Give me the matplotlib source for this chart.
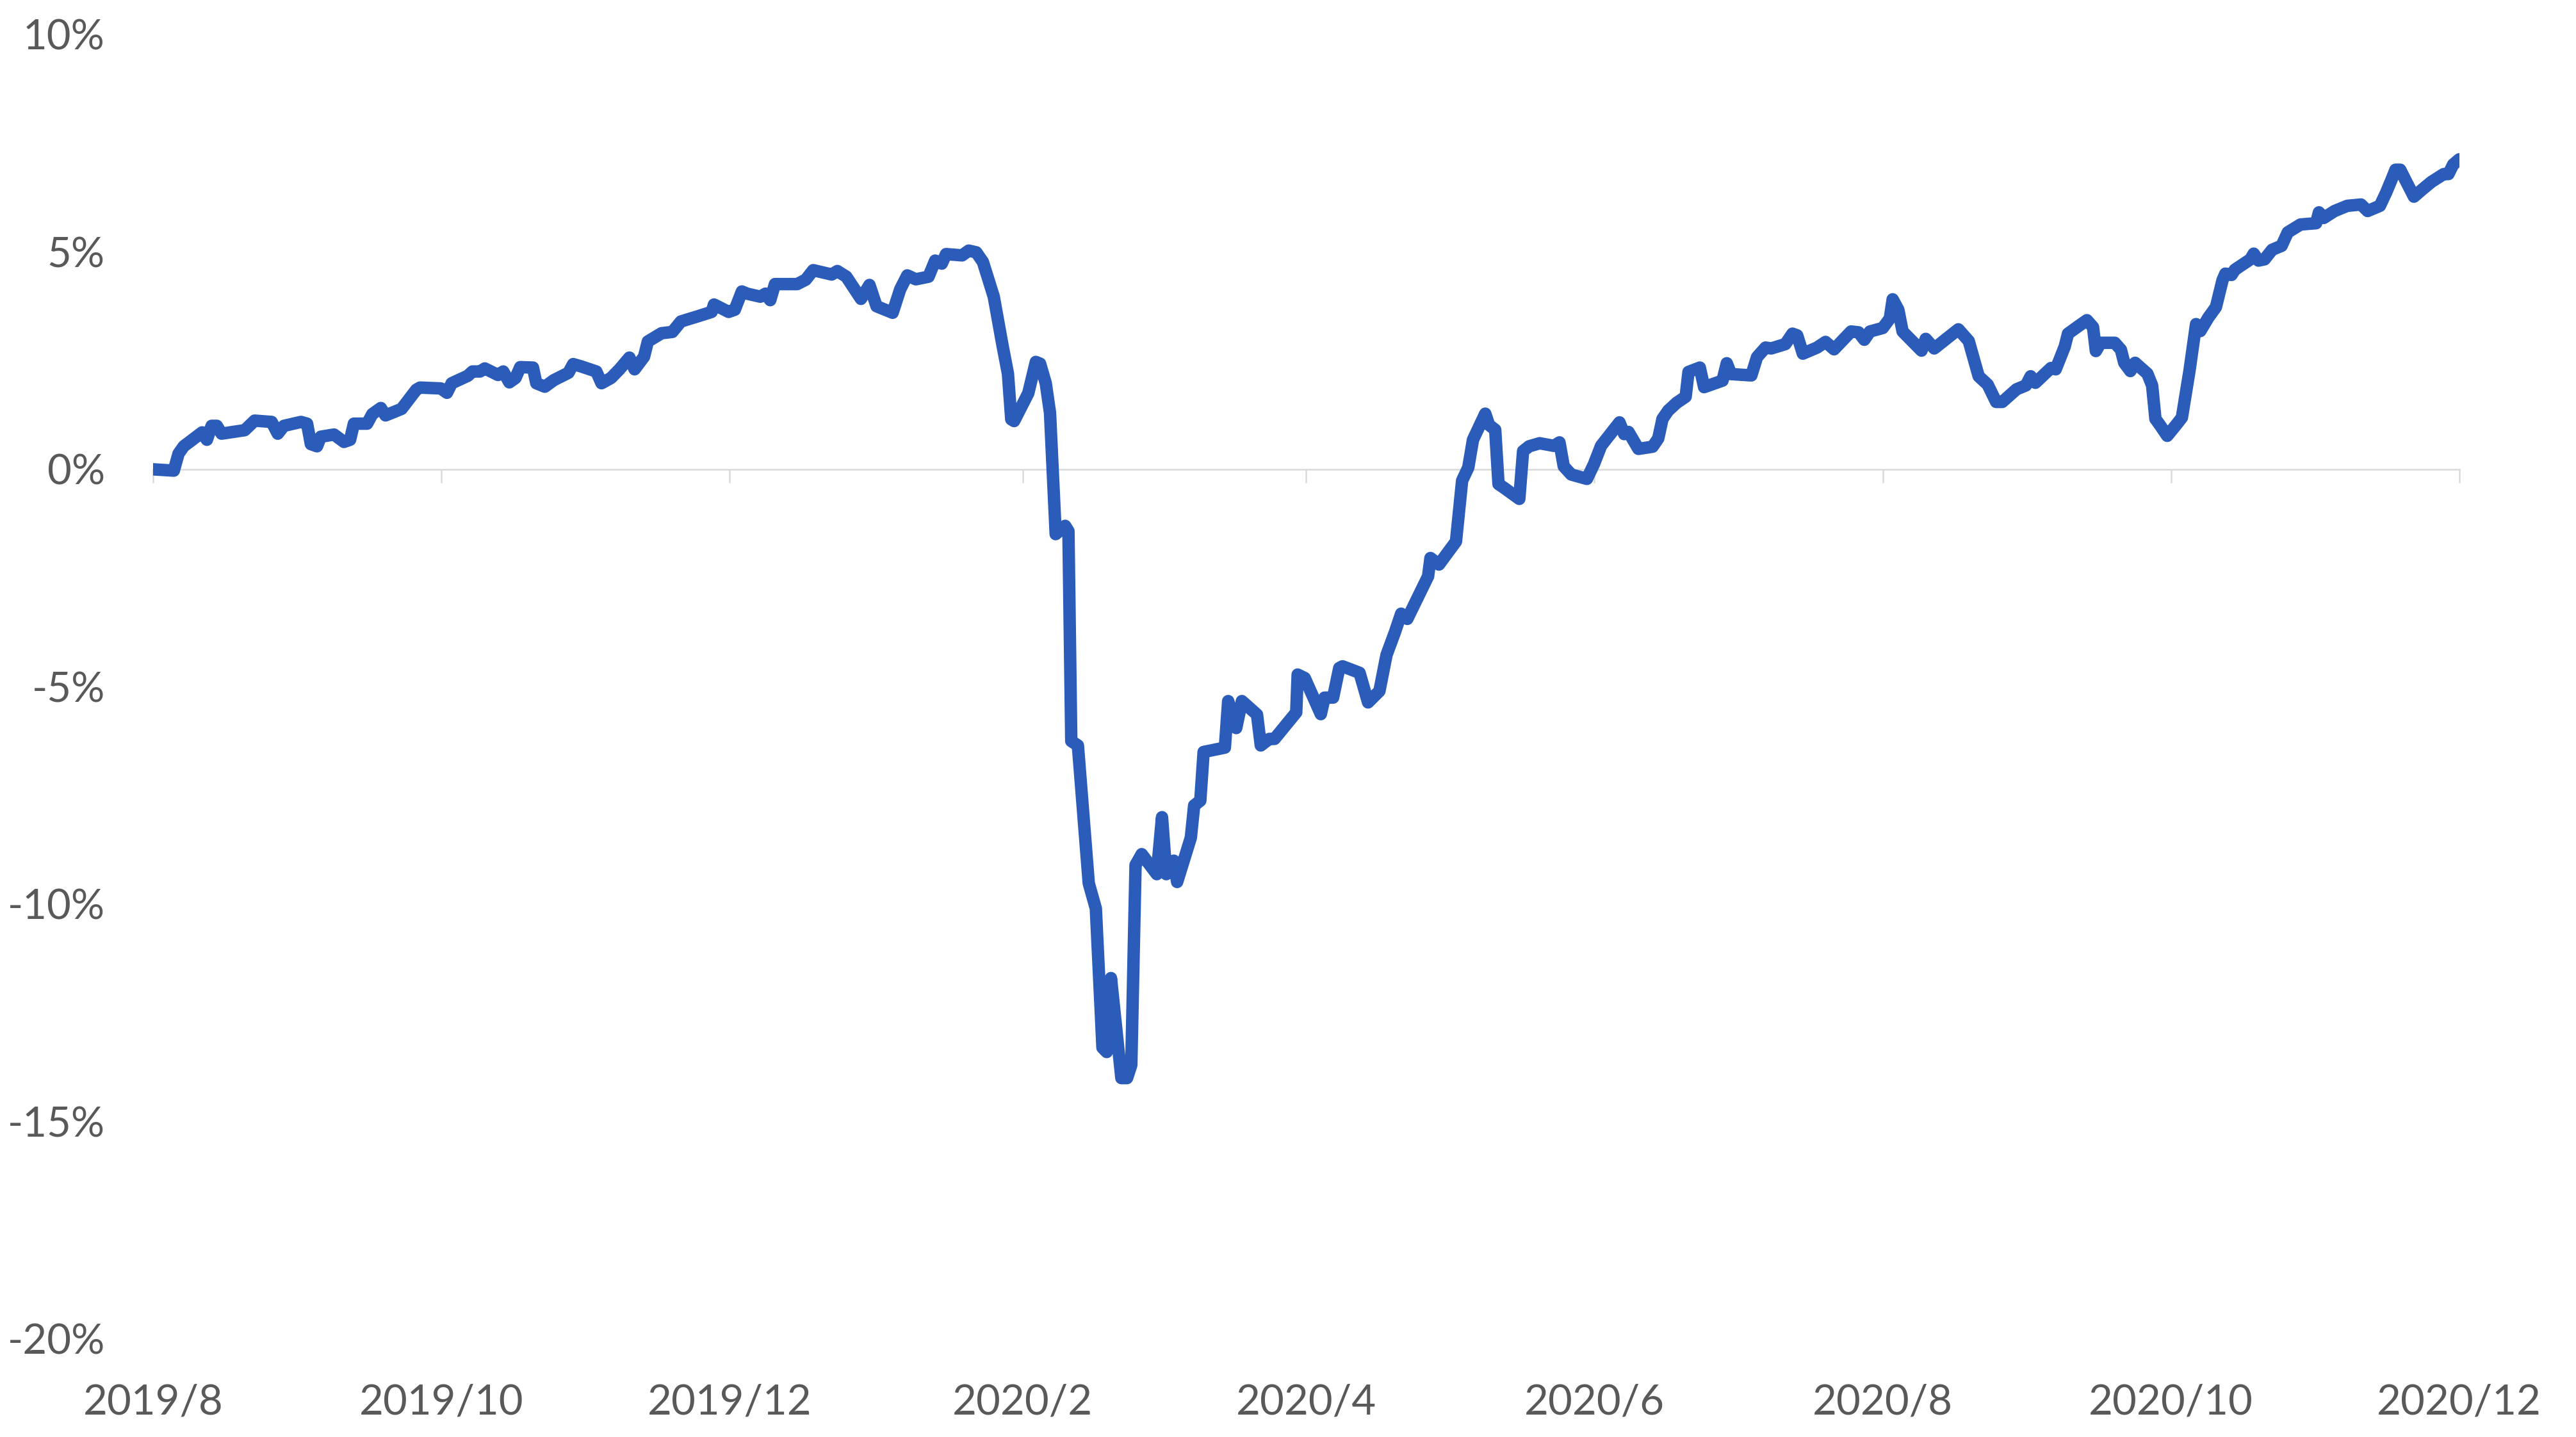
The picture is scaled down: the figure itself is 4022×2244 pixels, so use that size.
import pandas as pd
import matplotlib
matplotlib.use("Agg")
import matplotlib.pyplot as plt
import matplotlib.dates as mdates
from matplotlib.ticker import FuncFormatter

START = "2019-08-01"
END = "2020-12-01"

# days after 2019/8/1 and cumulative return (%)
day_offsets = [
    0.0, 4.4, 5.4, 6.5, 10.4, 11.4, 12.4, 13.5, 14.5, 19.4, 21.5, 25.1, 26.4, 27.7,
    31.3, 32.6, 33.4, 34.7, 35.5, 38.3, 40.4, 41.7, 42.5, 45.3, 46.4, 48.2, 49.2,
    52.6, 55.7, 56.5, 60.9, 62.2, 63.2, 66.6, 67.6, 69.2, 70.2, 73.0, 74.1, 75.4,
    76.7, 77.7, 80.4, 81.1, 82.9, 84.8, 87.9, 88.9, 90.5, 93.8, 94.9, 96.9, 98.7,
    100.8, 101.9, 103.9, 104.7, 107.6, 109.9, 111.7, 115.3, 118.2, 118.7, 121.8,
    123.1, 124.6, 125.7, 128.5, 129.6, 130.6, 131.6, 136.3, 138.1, 139.7, 143.6,
    144.8, 146.7, 149.8, 151.6, 153.1, 156.5, 158.1, 159.6, 161.4, 164.1, 165.5,
    166.9, 167.8, 171.2, 172.6, 174.2, 175.6, 177.9, 179.7, 180.9, 181.6, 182.2,
    185.2, 186.8, 187.7, 188.9, 189.8, 191.0, 193.0, 193.7, 194.3, 195.7, 198.0,
    199.5, 200.9, 201.8, 202.7, 204.9, 206.1, 207.0, 207.9, 209.2, 212.4, 213.5,
    214.4, 216.0, 216.7, 219.6, 220.3, 221.6, 222.3, 226.8, 227.5, 229.2, 230.4,
    233.6, 234.4, 236.2, 237.3, 241.9, 242.2, 243.7, 247.1, 247.9, 249.7, 251.0,
    251.7, 255.3, 257.1, 259.5, 261.0, 262.8, 264.1, 265.4, 269.8, 270.3, 272.1,
    275.7, 277.0, 278.3, 279.3, 281.9, 282.7, 284.0, 284.7, 285.8, 289.1, 289.9,
    291.2, 293.4, 296.4, 297.6, 298.5, 300.1, 303.4, 304.9, 306.4, 310.3, 311.3,
    312.2, 314.3, 317.3, 318.5, 319.4, 320.6, 322.4, 324.3, 324.9, 327.3, 328.2,
    332.1, 333.0, 333.9, 338.2, 339.4, 341.2, 342.4, 345.4, 346.9, 347.9, 349.1,
    352.1, 353.9, 355.7, 359.3, 360.9, 362.1, 363.3, 366.0, 367.5, 368.1, 369.3,
    370.2, 374.2, 375.1, 376.9, 382.0, 384.2, 386.3, 388.2, 390.0, 391.3, 394.3,
    396.3, 397.3, 398.3, 401.6, 402.6, 404.5, 405.2, 407.5, 409.2, 410.5, 411.1,
    412.1, 415.1, 416.4, 417.1, 418.4, 419.4, 422.0, 423.0, 423.7, 424.7, 426.2,
    428.0, 429.3, 430.9, 432.3, 433.2, 434.9, 436.5, 437.9, 438.5, 439.8, 440.5,
    443.8, 444.5, 445.5, 446.8, 448.4, 450.4, 451.7, 454.4, 457.7, 458.3, 459.3,
    461.6, 464.3, 467.2, 468.6, 471.2, 472.5, 473.8, 474.5, 475.5, 476.8, 478.4,
    480.1, 482.1, 484.7, 485.7, 486.7, 488.0,
]
returns_pct = [
    0.00, -0.03, 0.36, 0.53, 0.85, 0.68, 1.00, 1.00, 0.82, 0.90, 1.12, 1.09, 0.82, 1.00,
    1.09, 1.05, 0.58, 0.53, 0.75, 0.80, 0.63, 0.68, 1.05, 1.05, 1.27, 1.41, 1.24,
    1.39, 1.83, 1.88, 1.86, 1.76, 1.98, 2.15, 2.25, 2.25, 2.32, 2.17, 2.25, 2.00,
    2.10, 2.35, 2.34, 1.98, 1.90, 2.05, 2.22, 2.42, 2.37, 2.25, 1.98, 2.10, 2.30,
    2.57, 2.30, 2.59, 2.94, 3.13, 3.16, 3.40, 3.52, 3.62, 3.79, 3.62,
    3.67, 4.09, 4.04, 3.97, 4.04, 3.89, 4.26, 4.26, 4.36, 4.58, 4.48,
    4.56, 4.43, 3.92, 4.24, 3.75, 3.60, 4.14, 4.46, 4.37, 4.43, 4.80,
    4.73, 4.95, 4.92, 5.03, 4.99, 4.77, 3.97, 2.88, 2.20, 1.15, 1.11,
    1.75, 2.47, 2.43, 1.98, 1.30, -1.49, -1.30, -1.42, -6.25, -6.35, -9.52,
    -10.1, -13.3, -13.4, -11.7, -14.0, -14.0, -13.7, -9.1, -8.85, -9.31, -8.0,
    -9.31, -9.0, -9.49, -8.47, -7.73, -7.62, -6.50, -6.40, -5.33, -5.95, -5.33,
    -5.64, -6.35, -6.20, -6.20, -5.59, -4.72, -4.80, -5.63, -5.25, -5.25, -4.57,
    -4.53, -4.68, -5.36, -5.10, -4.27, -3.74, -3.32, -3.44, -2.46, -2.04, -2.19,
    -1.66, -0.26, 0.04, 0.68, 1.28, 1.02, 0.91, -0.34, -0.42, -0.68, 0.42,
    0.53, 0.60, 0.54, 0.62, 0.07, -0.12, -0.22, 0.12, 0.54, 1.08, 0.81,
    0.86, 0.47, 0.52, 0.71, 1.16, 1.35, 1.53, 1.67, 2.24, 2.34, 1.89,
    2.04, 2.44, 2.19, 2.16, 2.58, 2.80, 2.78, 2.88, 3.12, 3.08, 2.66,
    2.80, 2.93, 2.76, 3.17, 3.15, 2.98, 3.17, 3.25, 3.47, 3.91, 3.67,
    3.17, 2.73, 3.00, 2.78, 3.22, 2.95, 2.14, 1.95, 1.55, 1.55, 1.84,
    1.93, 2.14, 1.99, 2.33, 2.30, 2.82, 3.12, 3.30, 3.43, 3.27, 2.72,
    2.91, 2.91, 2.75, 2.45, 2.26, 2.45, 2.20, 1.93, 1.16, 1.01, 0.77,
    1.01, 1.19, 2.26, 3.34, 3.18, 3.49, 3.73, 4.35, 4.50, 4.47, 4.59,
    4.83, 4.96, 4.80, 4.83, 5.05, 5.14, 5.45, 5.63, 5.66, 5.91, 5.78,
    5.94, 6.06, 6.09, 5.94, 6.06, 6.36, 6.70, 6.89, 6.89, 6.61, 6.27,
    6.43, 6.61, 6.79, 6.79, 7.01, 7.13,
]

tick_months = ["2019-08-01", "2019-10-01", "2019-12-01", "2020-02-01", "2020-04-01",
               "2020-06-01", "2020-08-01", "2020-10-01", "2020-12-01"]
tick_labels = ["2019/8", "2019/10", "2019/12", "2020/2", "2020/4",
               "2020/6", "2020/8", "2020/10", "2020/12"]
y_ticks = [-20, -15, -10, -5, 0, 5, 10]
Y_MIN, Y_MAX = -20, 10

LINE_COLOR = "#2B5CBA"
TEXT_COLOR = "#595959"
AXIS_COLOR = "#D9D9D9"


def main():
    plt.rcParams['font.family'] = ['Lato', 'DejaVu Sans']

    dates = pd.Timestamp(START) + pd.to_timedelta(day_offsets, unit="D")
    tick_dates = mdates.date2num(pd.to_datetime(tick_months))

    fig = plt.figure(figsize=(40.22, 22.44), dpi=100)
    ax = fig.add_axes([0.0594, 0.0682, 0.8953, 0.9078])

    ax.plot(dates, returns_pct, color=LINE_COLOR, lw=14,
            solid_joinstyle="round", solid_capstyle="round", zorder=3)

    ax.set_xlim(pd.Timestamp(START), pd.Timestamp(END))
    ax.set_ylim(Y_MIN, Y_MAX)
    for s in ax.spines.values():
        s.set_visible(False)

    ax.set_yticks(y_ticks)
    ax.yaxis.set_major_formatter(FuncFormatter(lambda v, p: f"{v:.0f}%"))
    ax.tick_params(axis="y", length=0, pad=54, labelsize=47, labelcolor=TEXT_COLOR)

    ax.set_xticks(tick_dates)
    ax.set_xticklabels(tick_labels)
    ax.tick_params(axis="x", length=0, pad=50, labelsize=47, labelcolor=TEXT_COLOR)

    # category axis line sits at 0%, ticks pointing down
    zero_frac = (0 - Y_MIN) / (Y_MAX - Y_MIN)
    sec = ax.secondary_xaxis(zero_frac)
    sec.set_alignment("bottom")
    sec.set_xticks(tick_dates)
    sec.tick_params(axis="x", direction="out", length=15, width=1.8,
                    color=AXIS_COLOR, labelbottom=False, labeltop=False)
    for s in sec.spines.values():
        s.set_color(AXIS_COLOR)
        s.set_linewidth(1.8)
    sec.spines["top"].set_visible(False)

    fig.savefig("out.png", dpi=100)


if __name__ == "__main__":
    main()
